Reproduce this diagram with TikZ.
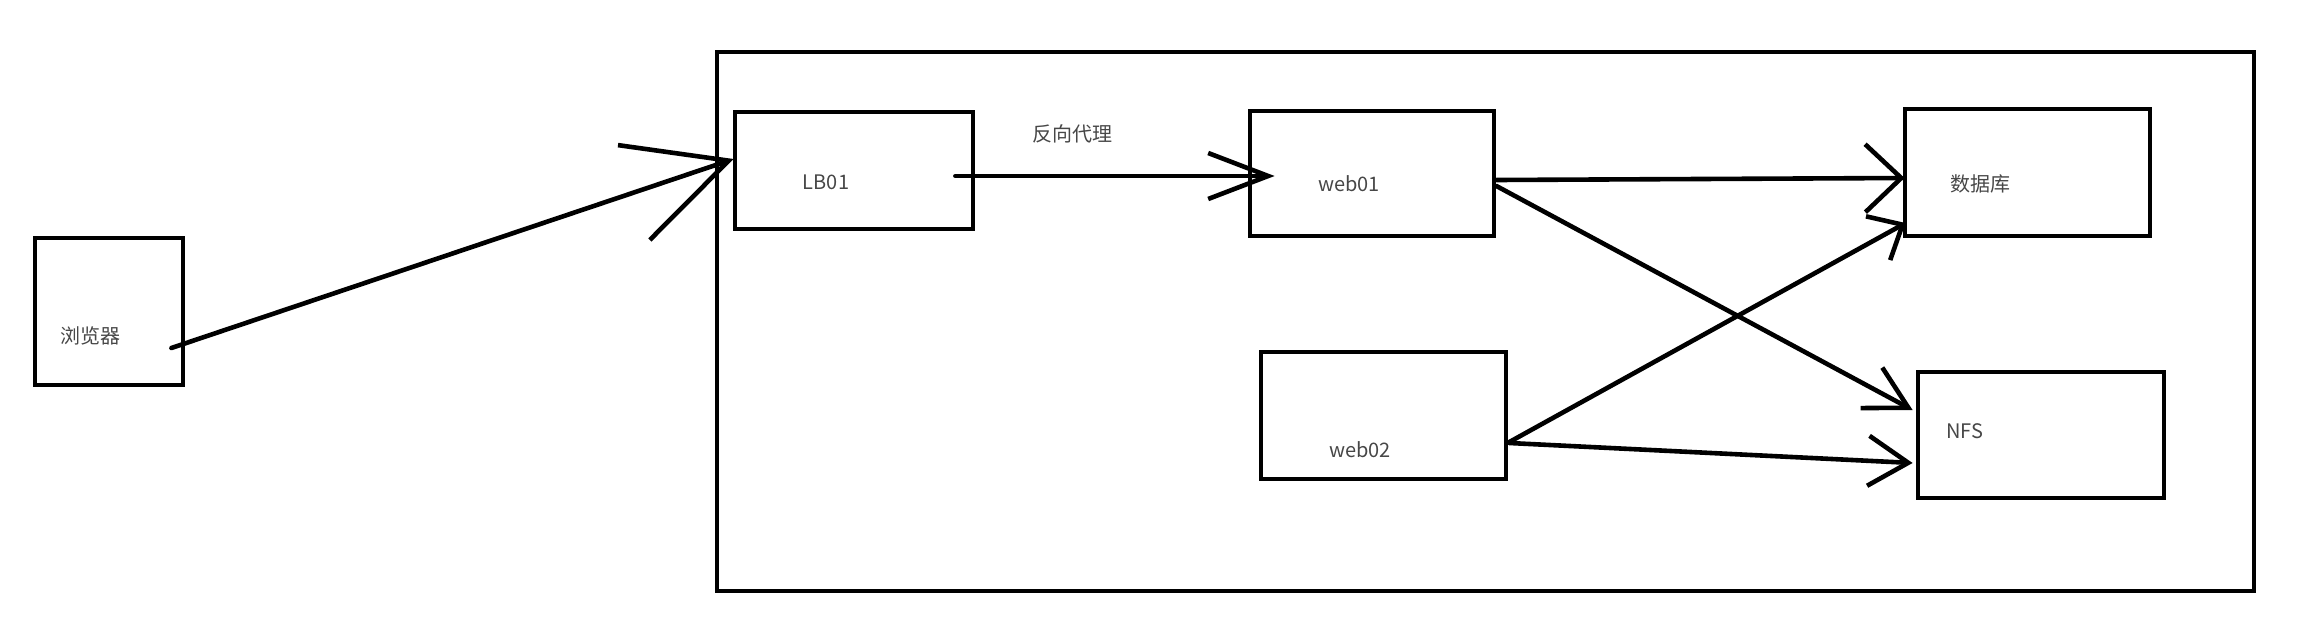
\documentclass[tikz,border=0pt]{standalone}
\usepackage{fontspec}
\setmainfont{Noto Sans CJK SC}
\usepackage{tikz}
\usetikzlibrary{arrows.meta}
\tikzset{
  box/.style={draw,line width=2.4pt,inner sep=0pt},
  link/.style={line width=2.3pt,line cap=round,line join=round},
  lbl/.style={font=\fontsize{10}{12}\selectfont,text=black!72,inner sep=0pt}
}
\begin{document}
\begin{tikzpicture}[x=0.5pt,y=-0.5pt]
\useasboundingbox(0,0)rectangle(2318,637);
%outer frame
\node[box,minimum width=768.5pt,minimum height=269.5pt](frame)at(1485.5,321.5){};
%boxes
\node[box,minimum width=74pt,minimum height=73.5pt](browser)at(109,311.5){};
\node[box,minimum width=119pt,minimum height=58.5pt](lb)at(854,170.5){};
\node[box,minimum width=122pt,minimum height=62.5pt](webA)at(1372,173.5){};
\node[box,minimum width=122.5pt,minimum height=63.5pt](webB)at(1383.5,415.5){};
\node[box,minimum width=122.5pt,minimum height=63.5pt](db)at(2027.5,172.5){};
\node[box,minimum width=123pt,minimum height=63pt](nfs)at(2041,435){};
%labels
\node[lbl](tBrowser)at(91,336){浏览器};
\node[lbl](tLb)at(826,182){LB01};
\node[lbl](tProxy)at(1072,134){反向代理};
\node[lbl](tWebA)at(1349,184){web01};
\node[lbl](tWebB)at(1360,450){web02};
\node[lbl](tDb)at(1980,184){数据库};
\node[lbl](tNfs)at(1965,431){NFS};
%arrows
\draw[link,-{Straight Barb[length=50pt,width=50pt]}]([shift={(-14,36.5)}]browser.east)--([shift={(1,-11.5)}]lb.west);
\draw[link,-{Straight Barb[length=30pt,width=23pt]}]([shift={(-20,5.5)}]lb.east)--([shift={(27,2.5)}]webA.west);
\draw[link,-{Straight Barb[length=18pt,width=34pt]}]([shift={(0,6.5)}]webA.east)--([shift={(2,5.5)}]db.west);
\draw[link,-{Straight Barb[length=21pt,width=23pt]}]([shift={(0,12.5)}]webA.east)--([shift={(-3,-25)}]nfs.west);
\draw[link,-{Straight Barb[length=14pt,width=25pt]}]([shift={(1,26.5)}]webB.east)--([shift={(3,50.5)}]db.west);
\draw[link,-{Straight Barb[length=20pt,width=25pt]}]([shift={(1,27.5)}]webB.east)--([shift={(-3,28)}]nfs.west);
\end{tikzpicture}
\end{document}
